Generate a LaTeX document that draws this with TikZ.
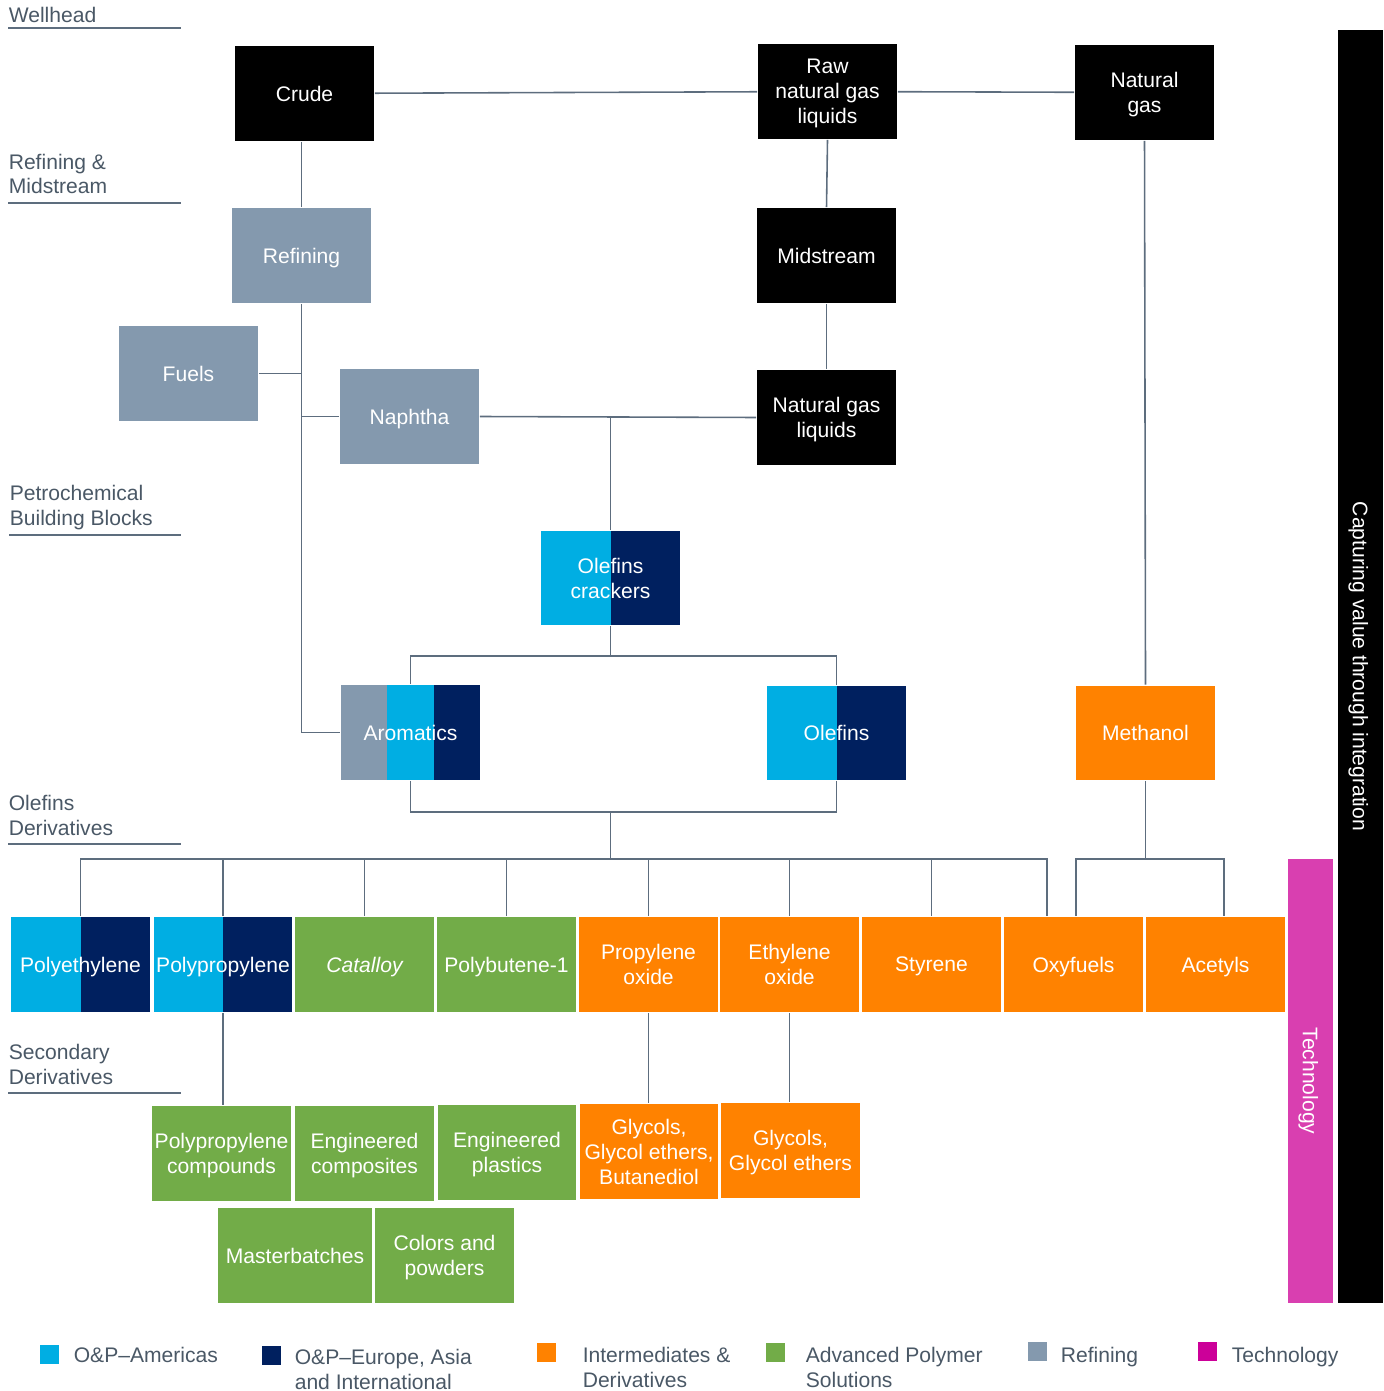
\documentclass[tikz,border=0pt]{standalone}
\usepackage{fontspec}
\setmainfont{Liberation Sans}
\usetikzlibrary{positioning}
\definecolor{opcyan}{HTML}{00AEE3}
\definecolor{opnavy}{HTML}{00205F}
\definecolor{idorange}{HTML}{FF8200}
\definecolor{apsgreen}{HTML}{72AC48}
\definecolor{refgray}{HTML}{8499AE}
\definecolor{techpink}{HTML}{D93FB0}
\definecolor{legpink}{HTML}{CC0099}
\definecolor{linegray}{HTML}{5D6D7E}
\definecolor{labgray}{HTML}{4A5866}
\begin{document}
\begin{tikzpicture}[x=0.02cm,y=-0.02cm,line width=0.9pt,draw=linegray]
	\tikzstyle{box}=[fill=black,text=white,minimum width=2.78cm,minimum height=1.9cm,inner sep=0pt,text depth=0pt,align=center,font=\fontsize{12}{14.2}\selectfont]
	\tikzstyle{split}=[box,fill=opcyan,path picture={\fill[opnavy] (path picture bounding box.north) rectangle (path picture bounding box.south east);}]
	\tikzstyle{sect}=[anchor=south west,align=left,inner sep=0pt,text=labgray,font=\fontsize{12}{14.2}\selectfont]
	\tikzstyle{leg}=[anchor=base west,align=left,inner sep=0pt,text=labgray,font=\fontsize{12}{14.2}\selectfont]
	\tikzstyle{sq}=[minimum size=0.38cm,inner sep=0pt]
	\useasboundingbox (0,0) rectangle (1383,1391);

	% section labels
	\node[sect] (wellh) at (8,24){Wellhead};
	\node[sect] (refmid) at (8,195){Refining \&\\Midstream};
	\node[sect] (petro) at (9,531){Petrochemical\\Building Blocks};
	\node[sect] (older) at (8,836){Olefins\\Derivatives};
	\node[sect] (secder) at (8,1085){Secondary\\Derivatives};
	\draw (8,28) -- (181,28);
	\draw (8,203) -- (181,203);
	\draw (9,535) -- (181,535);
	\draw (8,844) -- (181,844);
	\draw (8,1093) -- (181,1093);

	% feedstocks
	\node[box] (crude) at (304.5,93.5){Crude};
	\node[box] (rawngl) at (827.5,91.5){Raw\\natural gas\\liquids};
	\node[box] (natgas) at (1144.5,92.5){Natural\\gas};
	\node[box,fill=refgray] (refin) at (301.5,255.5){Refining};
	\node[box] (midstr) at (826.5,255.5){Midstream};
	\node[box,fill=refgray] (fuels) at (188.5,373.5){Fuels};
	\node[box,fill=refgray] (naphtha) at (409.5,416.5){Naphtha};
	\node[box] (ngl) at (826.5,417.5){Natural gas\\liquids};

	% building blocks
	\node[split] (crack) at (610.5,578){Olefins\\crackers};
	\node[box,fill=opcyan,path picture={
		\fill[refgray] (path picture bounding box.south west) rectangle ([xshift=0.92cm]path picture bounding box.north west);
		\fill[opnavy] ([xshift=-0.92cm]path picture bounding box.south east) rectangle (path picture bounding box.north east);}] (arom) at (410.5,732.5){Aromatics};
	\node[split] (olef) at (836.5,733){Olefins};
	\node[box,fill=idorange] (meth) at (1145.5,733){Methanol};

	% derivatives
	\node[split] (pe) at (80.5,964.5){Polyethylene};
	\node[split] (pp) at (223,964.5){Polypropylene};
	\node[box,fill=apsgreen] (cat) at (364.5,964.5){\itshape Catalloy};
	\node[box,fill=apsgreen] (pb) at (506.5,964.5){Polybutene-1};
	\node[box,fill=idorange] (po) at (648.5,964.5){Propylene\\oxide};
	\node[box,fill=idorange] (eo) at (789.5,964.5){Ethylene\\oxide};
	\node[box,fill=idorange] (sty) at (931.5,964.5){Styrene};
	\node[box,fill=idorange] (oxy) at (1073.5,964.5){Oxyfuels};
	\node[box,fill=idorange] (acet) at (1215.5,964.5){Acetyls};

	% secondary derivatives
	\node[box,fill=apsgreen] (ppc) at (221.5,1153.5){Polypropylene\\compounds};
	\node[box,fill=apsgreen] (engc) at (364.5,1153.5){Engineered\\composites};
	\node[box,fill=apsgreen] (engp) at (507,1152.5){Engineered\\plastics};
	\node[box,fill=idorange] (glyb) at (649,1151.5){Glycols,\\Glycol ethers,\\Butanediol};
	\node[box,fill=idorange] (glye) at (790.5,1150.5){Glycols,\\Glycol ethers};
	\node[box,fill=apsgreen,minimum width=3.08cm] (mb) at (295,1255.5){Masterbatches};
	\node[box,fill=apsgreen] (colp) at (444.5,1255.5){Colors and\\powders};

	% side bars
	\node[box,fill=techpink,rotate=-90,minimum width=8.88cm,minimum height=0.9cm] (tech) at (1310.5,1081){Technology};
	\node[box,rotate=-90,minimum width=25.46cm,minimum height=0.9cm] (capt) at (1360.5,666.5){Capturing value through integration};

	% connectors
	\draw (crude) -- (rawngl);
	\draw (rawngl) -- (natgas);
	\draw (refin.north |- crude.south) -- (refin.north);
	\draw (rawngl.south) -- (midstr.north);
	\draw (midstr.south) -- (ngl.north);
	\draw (natgas.south) -- (meth.north);
	\draw (refin.south) |- (arom.west);
	\draw (fuels.east) -- (fuels.east -| refin.south);
	\draw (naphtha.west) -- (naphtha.west -| refin.south);
	\draw (naphtha.east) -- (ngl.west);
	\draw (crack.north) -- (crack.north |- naphtha.east);

	\coordinate (c1) at (610.5,656);
	\coordinate (c2) at (610.5,812);
	\coordinate (c3) at (610.5,859);
	\draw (crack.south) -- (c1);
	\draw (arom.north) -- (arom.north |- c1) -- (olef.north |- c1) -- (olef.north);
	\draw (arom.south) -- (arom.south |- c2) -- (olef.south |- c2) -- (olef.south);
	\draw (c2) -- (c3);

	\coordinate (oxl) at ([xshift=-0.53cm]oxy.north);
	\coordinate (oxr) at ([xshift=0.05cm]oxy.north);
	\coordinate (acr) at ([xshift=0.17cm]acet.north);
	\draw (pe.north) |- (oxl |- c3) -- (oxl);
	\foreach \n in {pp,cat,pb,po,eo,sty}
		\draw (\n.north) -- (\n.north |- c3);
	\coordinate (m1) at (meth.south |- c3);
	\draw (meth.south) -- (m1);
	\draw (oxr) |- (m1) -| (acr);

	\draw (pp.south) -- (pp.south |- ppc.north);
	\draw (po.south) -- (po.south |- glyb.north);
	\draw (eo.south) -- (eo.south |- glye.north);

	% legend
	\node[sq,fill=opcyan] (lg1) at (49.5,1354){};
	\node[sq,fill=opnavy] (lg2) at (271.5,1355){};
	\node[sq,fill=idorange] (lg3) at (546.5,1352){};
	\node[sq,fill=apsgreen] (lg4) at (775.5,1352){};
	\node[sq,fill=refgray] (lg5) at (1037.5,1351.5){};
	\node[sq,fill=legpink] (lg6) at (1207.5,1351.5){};
	\node[leg] (lt1) at (73,1362){O\&P–Americas};
	\node[leg] (lt2) at (294,1389){O\&P–Europe, Asia\\and International};
	\node[leg] (lt3) at (582,1387){Intermediates \&\\Derivatives};
	\node[leg] (lt4) at (805,1387){Advanced Polymer\\Solutions};
	\node[leg] (lt5) at (1060,1362){Refining};
	\node[leg] (lt6) at (1231,1362){Technology};
\end{tikzpicture}
\end{document}
